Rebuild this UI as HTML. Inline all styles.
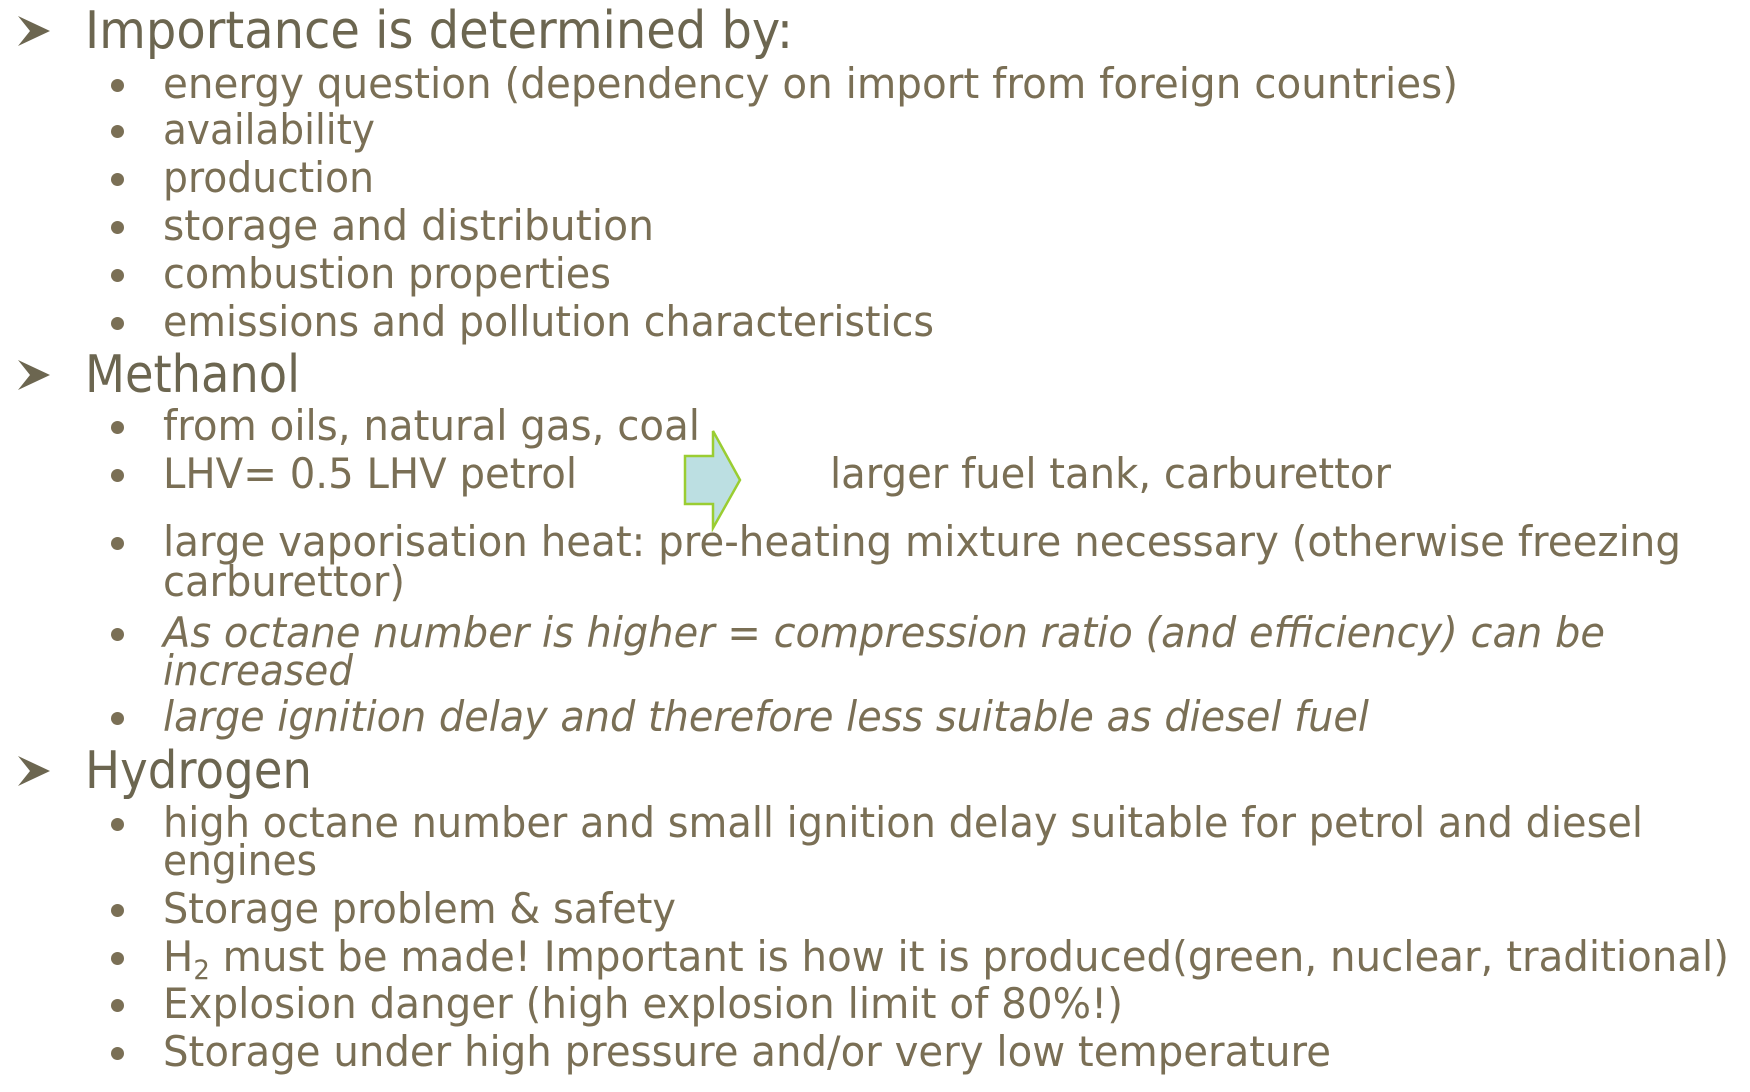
<!DOCTYPE html>
<html><head><meta charset="utf-8">
<style>
html,body{margin:0;padding:0;background:#fff;}
#slide{position:relative;width:1750px;height:1092px;overflow:hidden;background:#fff;font-family:"DejaVu Sans","Liberation Sans",sans-serif;color:#7a6f55;}
.ln{position:absolute;white-space:nowrap;transform-origin:0 50%;line-height:50px;height:50px;}
.h{font-size:52px;color:#6c6650;}
.b{font-size:42px;}
.i{font-style:italic;}
.bul{position:absolute;width:13px;height:13px;border-radius:50%;background:#7a6f55;}
.arr{position:absolute;}
</style></head><body>
<div id="slide">
<svg class="arr" style="left:14px;top:14px" width="40" height="34"><polygon points="4,2 36,17 4,32 16,17" fill="#6c6650"/></svg>
<svg class="arr" style="left:14px;top:358px" width="40" height="34"><polygon points="4,2 36,17 4,32 16,17" fill="#6c6650"/></svg>
<svg class="arr" style="left:14px;top:754px" width="40" height="34"><polygon points="4,2 36,17 4,32 16,17" fill="#6c6650"/></svg>
<svg class="arr" style="left:680px;top:428px" width="64" height="104"><polygon points="5,28 33,28 33,3 60,52 33,100 33,76 5,76" fill="#bcdfe2" stroke="#9acd32" stroke-width="2.5"/></svg>
</div>
<script>
const lines=[
["h","",85,31,708,"Importance is determined by:","importance-heading"],
["b","",163,84,1295,"energy question (dependency on import from  foreign countries)","bullet-energy-question"],
["b","",163,130,212,"availability","bullet-availability"],
["b","",163,178,211,"production","bullet-production"],
["b","",163,226,491,"storage  and distribution","bullet-storage-distribution"],
["b","",163,274,448,"combustion properties","bullet-combustion"],
["b","",163,322,771,"emissions and pollution characteristics","bullet-emissions"],
["h","",85,375,215,"Methanol","methanol-heading"],
["b","",163,426,537,"from oils, natural gas, coal","bullet-from-oils"],
["b","",163,474,414,"LHV= 0.5 LHV petrol","bullet-lhv"],
["t","",830,474,561,"larger fuel tank, carburettor","larger-fuel-tank-text"],
["b","",163,542,1518,"large vaporisation heat:  pre-heating mixture necessary (otherwise freezing","bullet-vaporisation"],
["c","",163,582,242,"carburettor)","bullet-vaporisation-cont"],
["b","i",163,633,1442,"As octane number is higher = compression ratio (and efficiency) can be","bullet-octane"],
["c","i",163,671,190,"increased","bullet-octane-cont"],
["b","i",163,717,1206,"large ignition delay and therefore less suitable as diesel fuel","bullet-ignition-delay"],
["h","",85,771,227,"Hydrogen","hydrogen-heading"],
["b","",163,823,1480,"high octane number and small ignition delay suitable for petrol and diesel","bullet-high-octane"],
["c","",163,861,154,"engines","bullet-high-octane-cont"],
["b","",163,909,513,"Storage problem &amp; safety","bullet-storage-problem"],
["b","",163,957,1566,"H<sub style='font-size:27px;vertical-align:-8px;line-height:0'>2</sub> must be made! Important is how it is produced(green, nuclear, traditional)","bullet-h2-made"],
["b","",163,1004,960,"Explosion danger (high explosion limit of 80%!)","bullet-explosion"],
["b","",163,1052,1168,"Storage under high pressure and/or very low temperature","bullet-storage-pressure"]
];
const s=document.getElementById('slide');
for(const [k,st,x,y,w,t,n] of lines){
 const d=document.createElement('div');
 d.className='ln '+(k==='h'?'h':'b')+(st?' '+st:'');
 d.style.left=x+'px';d.style.top=(y-25)+'px';
 d.innerHTML=t;
 
 
 s.appendChild(d);
 const cw=d.getBoundingClientRect().width;
 d.style.transform='scaleX('+(w/cw)+')';
 if(k==='b'){
  const b=document.createElement('div');
  b.className='bul';b.style.left='111px';b.style.top=(y-5)+'px';
  
  
  s.appendChild(b);
 }
}
</script>
</body></html>
